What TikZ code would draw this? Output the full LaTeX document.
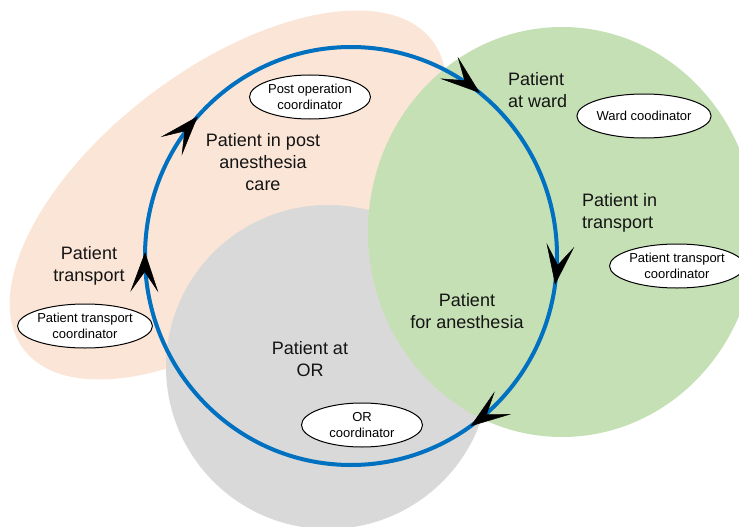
\documentclass[tikz,border=0pt]{standalone}
\usepackage{fontspec}
\setmainfont{Liberation Sans}
\usetikzlibrary{arrows.meta,decorations.markings,shapes.geometric}
\definecolor{peachzone}{HTML}{FBE5D6}
\definecolor{greyzone}{HTML}{D9D9D9}
\definecolor{greenzone}{HTML}{C5E0B4}
\definecolor{cycleblue}{HTML}{0070C0}
\begin{document}
\begin{tikzpicture}[x=1pt,y=-1pt,
  phase/.style={font=\fontsize{18}{22}\selectfont, align=center, inner sep=0pt, text=black!92},
  role/.style={ellipse, draw=black, line width=1pt, fill=white,
    minimum width=121pt, minimum height=44pt, inner sep=0pt, align=center,
    font=\fontsize{13}{15.5}\selectfont},
  cycle/.style={draw=cycleblue, line width=4pt}]
\useasboundingbox (0,0) rectangle (739,527);

% care zones
\fill[peachzone, rotate around={37:(228,195)}] (228,195) ellipse[x radius=256, y radius=127];
\fill[greyzone] (328,367) circle[radius=162];
\fill[greenzone] (562,232) ellipse[x radius=194, y radius=205];

% patient flow cycle (clockwise)
\def\flowtip{\arrow{Stealth[length=40pt,width=28pt,inset=20pt,line width=0.5pt,black]}}
\draw[cycle, postaction={decorate}, decoration={markings,
    mark=at position 0.022 with {\flowtip},
    mark=at position 0.152 with {\flowtip},
    mark=at position 0.503 with {\flowtip},
    mark=at position 0.617 with {\flowtip},
    mark=at position 0.857 with {\flowtip}}]
  (557,256) arc[start angle=0, end angle=360, x radius=206, y radius=209];

% phases
\node[phase] (care) at (263,162) {Patient in post\\anesthesia\\care};
\node[phase] (transport) at (89,266) {Patient\\transport};
\node[phase] (atOR) at (310,359) {Patient at\\OR};
\node[phase] (anesthesia) at (467,311) {Patient\\for anesthesia};
\node[phase, align=left, anchor=west] (ward) at (508,90) {Patient\\at ward};
\node[phase, align=left, anchor=west] (intransport) at (582,213) {Patient in\\transport};

% coordinators
\node[role] (postco) at (310,97) {Post operation\\coordinator};
\node[role] (transco1) at (85,326) {Patient transport\\coordinator};
\node[role] (wardco) at (644,116) {Ward coodinator};
\node[role] (transco2) at (677,266) {Patient transport\\coordinator};
\node[role] (orco) at (362,425) {OR\\coordinator};
\end{tikzpicture}
\end{document}
